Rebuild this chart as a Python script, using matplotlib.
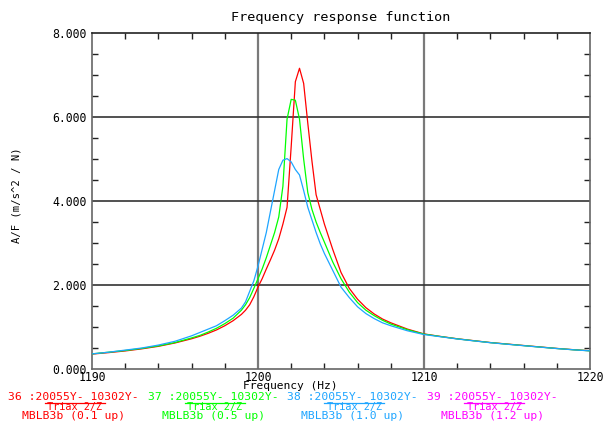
import matplotlib
matplotlib.use("Agg")
import matplotlib.pyplot as plt
from matplotlib.ticker import MultipleLocator, FormatStrFormatter

# Frequency axis (Hz) shared by all three measurements
freq = [1190, 1191, 1192, 1193, 1194, 1195, 1196, 1196.5, 1197, 1197.5, 1198,
        1198.5, 1199, 1199.25, 1199.5, 1199.75, 1200, 1200.25, 1200.5, 1200.75,
        1201, 1201.25, 1201.5, 1201.75, 1202, 1202.25, 1202.5, 1202.75, 1203,
        1203.25, 1203.5, 1203.75, 1204, 1204.5, 1205, 1205.5, 1206, 1206.5,
        1207, 1207.5, 1208, 1209, 1210, 1211, 1212, 1213, 1214, 1215, 1216,
        1217, 1218, 1219, 1220]

# Accelerance magnitude A/F (m/s^2 / N)
af_01up = [0.355, 0.39, 0.43, 0.48, 0.54, 0.62, 0.72, 0.78, 0.85, 0.93, 1.03,
           1.15, 1.30, 1.40, 1.53, 1.72, 1.95, 2.15, 2.38, 2.60,
           2.83, 3.10, 3.45, 3.85, 5.30, 6.84, 7.16, 6.80, 5.85,
           4.95, 4.15, 3.80, 3.45, 2.85, 2.30, 1.92, 1.66, 1.46,
           1.31, 1.19, 1.10, 0.95, 0.835, 0.775, 0.72, 0.675, 0.63, 0.595, 0.56,
           0.525, 0.49, 0.46, 0.435]
af_05up = [0.36, 0.40, 0.44, 0.49, 0.55, 0.63, 0.74, 0.80, 0.88, 0.97, 1.08,
           1.21, 1.40, 1.53, 1.70, 1.92, 2.15, 2.38, 2.65, 2.95,
           3.25, 3.62, 4.35, 5.95, 6.42, 6.40, 5.95, 5.00, 4.20,
           3.80, 3.50, 3.25, 3.02, 2.55, 2.15, 1.83, 1.58, 1.40,
           1.27, 1.16, 1.07, 0.935, 0.83, 0.772, 0.718, 0.672, 0.628, 0.592, 0.557,
           0.522, 0.488, 0.458, 0.433]
af_10up = [0.36, 0.40, 0.45, 0.50, 0.57, 0.66, 0.79, 0.87, 0.95, 1.03, 1.15,
           1.28, 1.45, 1.60, 1.85, 2.10, 2.45, 2.85, 3.25, 3.75,
           4.25, 4.75, 4.97, 5.01, 4.93, 4.75, 4.62, 4.25, 3.85,
           3.55, 3.25, 2.98, 2.75, 2.35, 1.95, 1.70, 1.48, 1.32,
           1.20, 1.10, 1.03, 0.91, 0.82, 0.768, 0.715, 0.67, 0.626, 0.59, 0.555,
           0.52, 0.487, 0.457, 0.432]

series = [af_01up, af_05up, af_10up]
colors = ["#ff0000", "#00ff00", "#1ea5ff"]

# Channel captions under the plot (the fourth one runs off the page)
chan_ids = ["36 :20055Y- 10302Y-", "37 :20055Y- 10302Y-",
            "38 :20055Y- 10302Y-", "39 :20055Y- 10302Y-"]
chan_dir = ["Triax 2/Z", "Triax 2/Z", "Triax 2/Z", "Triax 2/Z"]
chan_desc = ["MBLB3b (0.1 up)", "MBLB3b (0.5 up)",
             "MBLB3b (1.0 up)", "MBLB3b (1.2 up)"]
chan_colors = ["#ff0000", "#00ff00", "#1ea5ff", "#ff00ff"]

W, H = 611, 426
fig = plt.figure(figsize=(W / 100, H / 100), dpi=100)
ax = fig.add_axes([92 / W, 1 - 369 / H, (590 - 92) / W, (369 - 33) / H])

mono = "DejaVu Sans Mono"

for vals, c in zip(series, colors):
    ax.plot(freq, vals, color=c, lw=0.9, zorder=3)

ax.set_xlim(1190, 1220)
ax.set_ylim(0, 8)

# Grid lines at the interior major ticks
for gx in (1200, 1210):
    ax.axvline(gx, color="#7a7a7a", lw=1.6, zorder=1)
for gy in (2, 4, 6):
    ax.axhline(gy, color="#333333", lw=1.2, zorder=1)

ax.xaxis.set_major_locator(MultipleLocator(10))
ax.xaxis.set_minor_locator(MultipleLocator(2))
ax.yaxis.set_major_locator(MultipleLocator(2))
ax.yaxis.set_minor_locator(MultipleLocator(0.5))
ax.yaxis.set_major_formatter(FormatStrFormatter("%.3f"))
ax.xaxis.set_major_formatter(FormatStrFormatter("%d"))

ax.tick_params(which="both", direction="in", top=True, right=True,
               colors="#222222", labelcolor="black")
ax.tick_params(which="major", length=0, labelsize=8.3)
ax.tick_params(axis="x", which="major", pad=1.5)
ax.tick_params(axis="y", which="major", pad=4)
ax.tick_params(which="minor", length=4, width=1.0)
for lab in ax.get_xticklabels() + ax.get_yticklabels():
    lab.set_fontfamily(mono)

for side in ("left", "right", "bottom"):
    ax.spines[side].set_color("#666666")
    ax.spines[side].set_linewidth(1.2)
ax.spines["top"].set_color("#222222")
ax.spines["top"].set_linewidth(1.2)


def px_text(x, y, s, **kw):
    fig.text(x / W, 1 - y / H, s, family=mono, **kw)


px_text(341, 17, "Frequency response function", fontsize=9.7,
        ha="center", va="center")
px_text(290, 386, "Frequency (Hz)", fontsize=8.1, ha="center", va="center")
px_text(17, 195, "A/F (m/s^2 / N)", fontsize=7.6, ha="center", va="center",
        rotation=90)

step = 139.7
for i in range(4):
    x0 = 8 + i * step
    c = chan_colors[i]
    px_text(x0, 397, chan_ids[i], fontsize=8.2, color=c, ha="left",
            va="center")
    px_text(x0 + 67, 407, chan_dir[i], fontsize=7.4, color=c, ha="center",
            va="center")
    fig.add_artist(plt.Line2D([(x0 + 37) / W, (x0 + 97) / W],
                              [1 - 403 / H, 1 - 403 / H], color=c, lw=0.9))
    px_text(x0 + 14, 416, chan_desc[i], fontsize=8.2, color=c, ha="left",
            va="center")

fig.savefig("out.png", dpi=100)
